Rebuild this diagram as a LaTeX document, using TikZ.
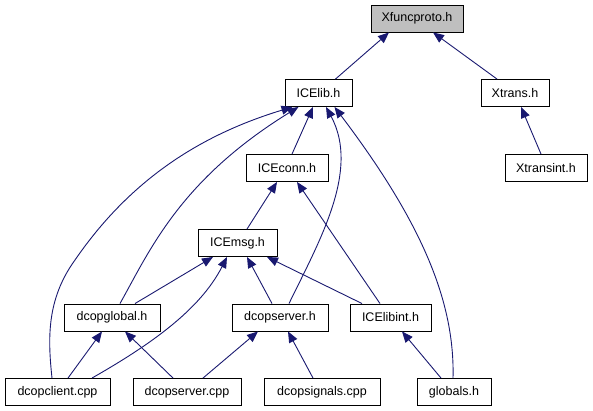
\documentclass[tikz,border=0pt]{standalone}
\usepackage{fontspec}
\setmainfont{Liberation Sans}
\usetikzlibrary{arrows.meta}
\definecolor{EdgeBlue}{RGB}{25,25,112}
\definecolor{RootGray}{RGB}{191,191,191}

\begin{document}
\begin{tikzpicture}[
    x=1pt,
    y=-1pt,
    font=\fontsize{12.5}{14}\selectfont,
    file/.style={
        draw=black,
        line width=0.9pt,
        minimum height=27pt,
        inner sep=0pt,
        fill=white
    },
    root/.style={
        file,
        fill=RootGray
    },
    dep/.style={
        -{Triangle[length=11pt,width=9pt]},
        line width=0.9pt,
        draw=EdgeBlue
    }
]
\useasboundingbox (0,0) rectangle (593,411);

\node[root, minimum width=92pt] (xfunc) at (417,18.5) {Xfuncproto.h};

\node[file, minimum width=67pt] (icelib) at (318.5,93) {ICElib.h};
\node[file, minimum width=68pt] (xtrans) at (515,93) {Xtrans.h};

\node[file, minimum width=82pt] (iceconn) at (287,168) {ICEconn.h};
\node[file, minimum width=82pt] (xtransint) at (546,168) {Xtransint.h};

\node[file, minimum width=79pt] (icemsg) at (237.5,243) {ICEmsg.h};

\node[file, minimum width=96pt] (dcopglobal) at (112,317.5) {dcopglobal.h};
\node[file, minimum width=96pt] (dcopserverh) at (280,317.5) {dcopserver.h};
\node[file, minimum width=81pt] (icelibint) at (390.5,317.5) {ICElibint.h};

\node[file, minimum width=105pt] (dcopclient) at (57.5,392) {dcopclient.cpp};
\node[file, minimum width=108pt] (dcopservercpp) at (187,392) {dcopserver.cpp};
\node[file, minimum width=116pt] (dcopsignals) at (322,392) {dcopsignals.cpp};
\node[file, minimum width=74pt] (globals) at (454,392) {globals.h};

% upper part
\draw[dep] ([xshift=17]icelib.north) -- ([xshift=-28]xfunc.south);
\draw[dep] ([xshift=-18]xtrans.north) -- ([xshift=16]xfunc.south);
\draw[dep] ([xshift=-5]xtransint.north) -- ([xshift=6]xtrans.south);
\draw[dep] ([xshift=5]iceconn.north) -- ([xshift=-5.5]icelib.south);
\draw[dep] ([xshift=9.5]icemsg.north) -- ([xshift=-10]iceconn.south);
\draw[dep] ([xshift=-10.5]icelibint.north) -- ([xshift=10]iceconn.south);

% long curves up to ICElib.h
\draw[dep] ([xshift=-5.5]dcopclient.north) .. controls (48,340) and (46,300) .. (75,260)
    .. controls (130,180) and (200,135) .. ([xshift=-26]icelib.south);
\draw[dep] ([xshift=8]dcopglobal.north) .. controls (150,250) and (180,180) .. ([xshift=-20]icelib.south);
\draw[dep] ([xshift=9]dcopserverh.north) .. controls (320,240) and (360,170) .. ([xshift=7.5]icelib.south);
\draw[dep] ([xshift=-1]globals.north) .. controls (455,300) and (420,220) .. ([xshift=16]icelib.south);

% ICEmsg.h
\draw[dep] ([xshift=23]dcopglobal.north) -- ([xshift=-24.5]icemsg.south);
\draw[dep] ([xshift=34.5]dcopclient.north) .. controls (150,345) and (200,310) .. ([xshift=-10.5]icemsg.south);
\draw[dep] ([xshift=-8]dcopserverh.north) -- ([xshift=9.5]icemsg.south);
\draw[dep] ([xshift=-28.5]icelibint.north) -- ([xshift=29.5]icemsg.south);

% bottom row
\draw[dep] ([xshift=10.5]dcopclient.north) -- ([xshift=-10]dcopglobal.south);
\draw[dep] ([xshift=-14]dcopservercpp.north) -- ([xshift=13]dcopglobal.south);
\draw[dep] ([xshift=16]dcopservercpp.north) -- ([xshift=-22]dcopserverh.south);
\draw[dep] ([xshift=-9]dcopsignals.north) -- ([xshift=8]dcopserverh.south);
\draw[dep] ([xshift=-13]globals.north) -- ([xshift=11.5]icelibint.south);

\end{tikzpicture}
\end{document}
